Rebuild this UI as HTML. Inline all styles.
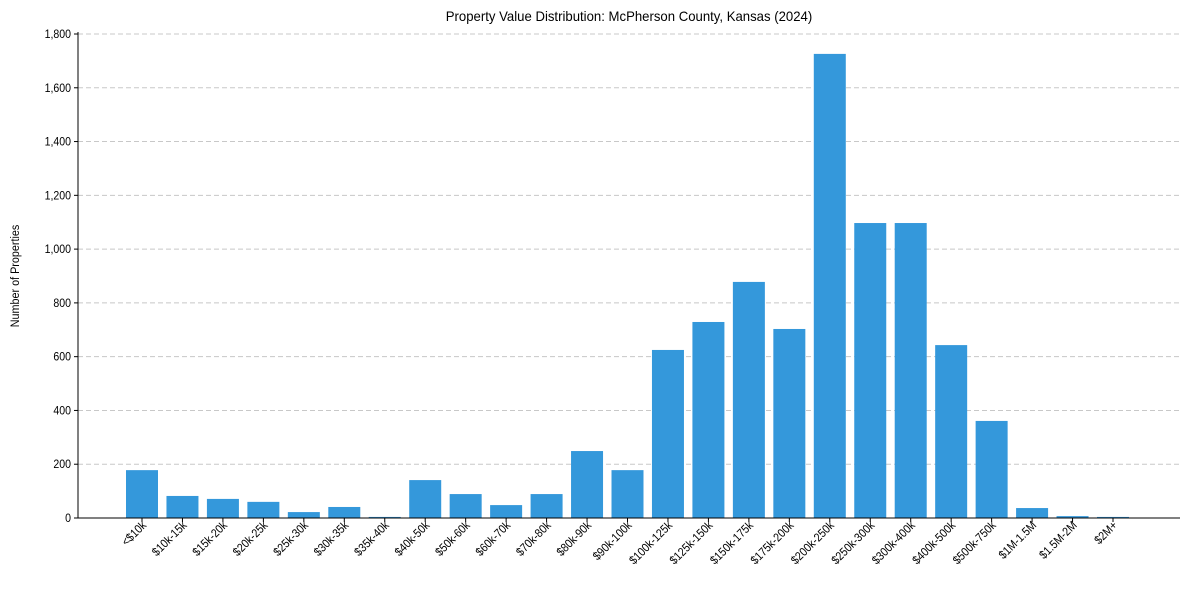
<!DOCTYPE html>
<html><head><meta charset="utf-8"><style>
body{margin:0;background:#fff;font-family:"Liberation Sans",Arial,sans-serif}
</style></head><body>
<svg id="chart" width="1190" height="590" xmlns="http://www.w3.org/2000/svg" font-family="Liberation Sans, Arial, sans-serif">
<text transform="translate(629,21) scale(0.94,1)" text-anchor="middle" font-size="14" fill="#000">Property Value Distribution: McPherson County, Kansas (2024)</text>
<text transform="translate(19,276) rotate(-90) scale(0.9,1)" text-anchor="middle" font-size="12" fill="#000">Number of Properties</text>
<g id="grid"></g><g id="bars"></g><g id="axes"></g>
</svg>
<script>
const categories=["<$10k","$10k-15k","$15k-20k","$20k-25k","$25k-30k","$30k-35k","$35k-40k","$40k-50k","$50k-60k","$60k-70k","$70k-80k","$80k-90k","$90k-100k","$100k-125k","$125k-150k","$150k-175k","$175k-200k","$200k-250k","$250k-300k","$300k-400k","$400k-500k","$500k-750k","$1M-1.5M","$1.5M-2M","$2M+"];
const counts=[178,82,71,60,22,41,4,141,89,48,89,249,178,625,729,878,703,1726,1097,1097,643,361,37,7,4];
const yTicks=[0,200,400,600,800,1000,1200,1400,1600,1800];
const yTickLabels=["0","200","400","600","800","1,000","1,200","1,400","1,600","1,800"];
const NS="http://www.w3.org/2000/svg";
const L=78,R=1180,T=34,B=518,yMax=1800;
const y=v=>B-(v/yMax)*(B-T);
const x0=142,step=(1113-142)/24,bw=32;
const x=i=>x0+i*step;
const grid=document.getElementById('grid'),bars=document.getElementById('bars'),axes=document.getElementById('axes');
function mk(tag,attrs,parent){const e=document.createElementNS(NS,tag);for(const k in attrs)e.setAttribute(k,attrs[k]);parent.appendChild(e);return e;}
yTicks.forEach((v,i)=>{
  if(v>0){const g=mk('line',{x1:L,x2:R,y1:y(v),y2:y(v),stroke:'#c8c8c8','stroke-dasharray':'5,3','stroke-width':1},grid);
  
  }
  const tk=mk('line',{x1:L-4,x2:L,y1:y(v),y2:y(v),stroke:'#000'},axes);
  
  
  const t=mk('text',{transform:`translate(${L-7},${y(v)+4}) scale(0.88,1)`,'text-anchor':'end','font-size':12},axes);
  t.textContent=yTickLabels[i];
  
  
});
categories.forEach((c,i)=>{
  const r=mk('rect',{x:x(i)-bw/2,y:y(counts[i]),width:bw,height:B-y(counts[i]),fill:'#3498db'},bars);
  
  
  const tk=mk('line',{x1:x(i),x2:x(i),y1:B,y2:B+4,stroke:'#000'},axes);
  
  
  const t=mk('text',{transform:`translate(${x(i)+5},${B+8}) rotate(-45) scale(0.88,1)`,'text-anchor':'end','font-size':12},axes);
  t.textContent=c;
  
  
});
const ax=mk('line',{x1:L,x2:L,y1:T-2,y2:B,stroke:'#000'},axes);


const bx=mk('line',{x1:L,x2:R,y1:B,y2:B,stroke:'#000'},axes);


</script>
</body></html>
